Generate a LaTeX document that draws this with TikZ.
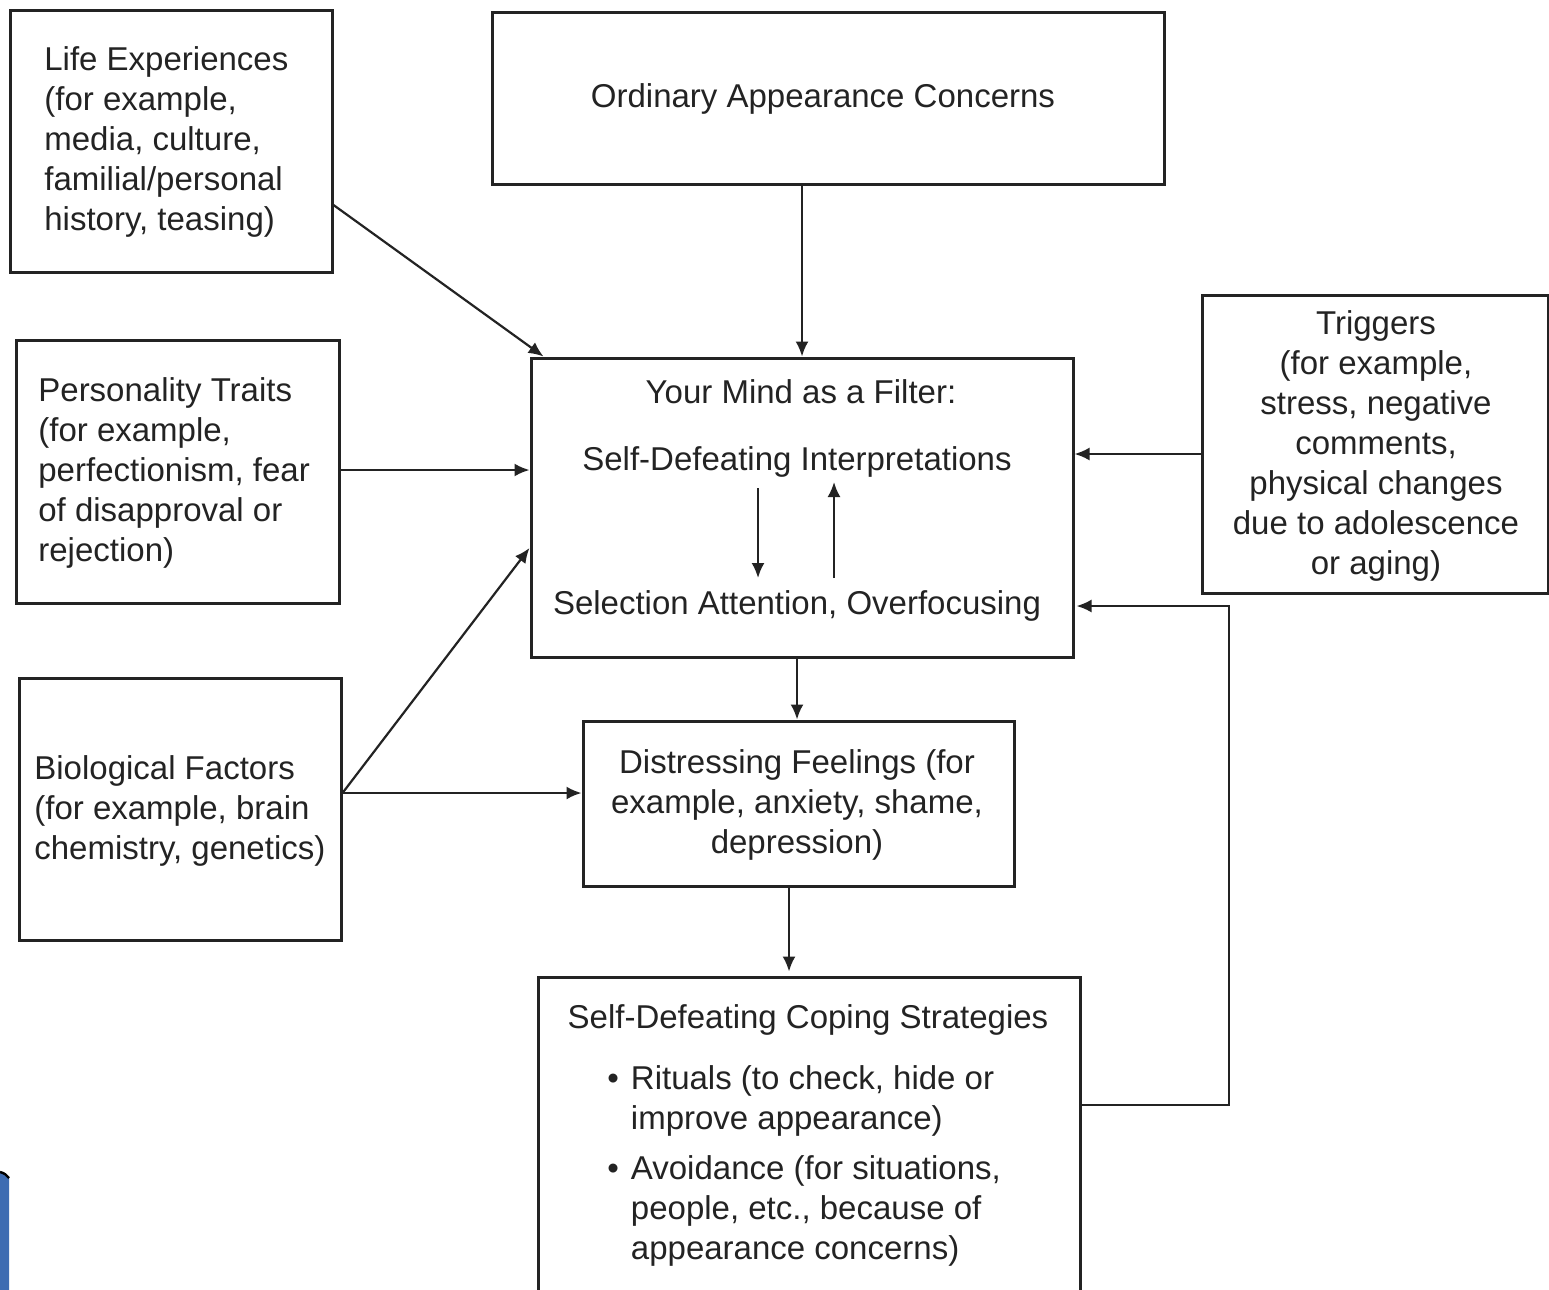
\documentclass[tikz,border=0pt]{standalone}
\usepackage{fontspec}
\setmainfont{Liberation Sans}
\usetikzlibrary{arrows.meta,calc}
\definecolor{ink}{RGB}{35,35,35}
\definecolor{deco}{RGB}{62,108,178}
\newcommand{\bul}{\textbullet\hspace{6pt}}
\begin{document}
\begin{tikzpicture}[x=0.5pt,y=-0.5pt,
  box/.style={draw=ink,line width=1.5pt,inner sep=0pt},
  txt/.style={inner sep=0pt,text=ink,font=\fontsize{16.5}{20}\selectfont},
  arr/.style={draw=ink,line width=1.1pt,-{Latex[length=7.5pt,width=6.5pt]}}]
\useasboundingbox[fill=white] (0,0) rectangle (1549,1290);
% decoration at bottom left
\fill[deco] (0,1172) .. controls (4,1173) and (7,1175) .. (9,1178) -- (9,1290) -- (0,1290) -- cycle;
\draw[black,line width=1.2pt] (0,1172) .. controls (4,1173) and (7,1175) .. (9,1178);
% boxes
\node[box,minimum width=161pt,minimum height=131pt] (life) at (171,141) {};
\node[box,minimum width=336pt,minimum height=86pt] (ord) at (828,98) {};
\node[box,minimum width=161.5pt,minimum height=131.5pt] (pers) at (177.5,471.5) {};
\node[box,minimum width=161pt,minimum height=131pt] (bio) at (180,809) {};
\node[box,minimum width=271pt,minimum height=149.5pt] (mind) at (802,507.5) {};
\node[box,minimum width=173pt,minimum height=149pt] (trig) at (1375,444) {};
\node[box,minimum width=215.5pt,minimum height=82.5pt] (dist) at (798.5,803.5) {};
\node[box,minimum width=271pt,minimum height=163pt] (cope) at (809,1140) {};
% texts
\node[txt,anchor=west,align=left] (lifet) at (44,142) {Life Experiences\\(for example,\\media, culture,\\familial/personal\\history, teasing)};
\node[txt] (ordt) at (823,99) {Ordinary Appearance Concerns};
\node[txt,anchor=west,align=left] (perst) at (38,472.5) {Personality Traits\\(for example,\\perfectionism, fear\\of disapproval or\\rejection)};
\node[txt,anchor=west,align=left] (biot) at (34,810.5) {Biological Factors\\(for example, brain\\chemistry, genetics)};
\node[txt,align=center] (trigt) at (1376,446) {Triggers\\(for example,\\stress, negative\\comments,\\physical changes\\due to adolescence\\or aging)};
\node[txt] (mindt) at (801,392) {Your Mind as a Filter:};
\node[txt] (interp) at (797,462) {Self-Defeating Interpretations};
\node[txt] (sel) at (797,606) {Selection Attention, Overfocusing};
\node[txt,align=center] (distt) at (797,805) {Distressing Feelings (for\\example, anxiety, shame,\\depression)};
\node[txt] (copet) at (808,1020) {Self-Defeating Coping Strategies};
\node[txt,anchor=west,align=left] (rit) at (607,1100.5) {\bul Rituals (to check, hide or\\\hphantom{\bul}improve appearance)};
\node[txt,anchor=west,align=left] (avo) at (607,1210.5) {\bul Avoidance (for situations,\\\hphantom{\bul}people, etc., because of\\\hphantom{\bul}appearance concerns)};
% inner arrows
\coordinate (d1) at (758,488);
\coordinate (d2) at (758,578);
\coordinate (u1) at (834,578);
\coordinate (u2) at (834,482);
\draw[arr] (d1) -- (d2);
\draw[arr] (u1) -- (u2);
% connectors
\draw[arr] (life.east |- 0,205) -- ([xshift=7pt]mind.north west);
\draw[arr] (mind.north |- ord.south) -- (mind.north);
\draw[arr] (pers.east |- 0,470) -- (mind.west |- 0,470);
\draw[arr] (bio.east |- 0,793) -- (mind.west |- 0,548);
\draw[arr] (bio.east |- 0,793) -- (dist.west |- 0,793);
\draw[arr] (trig.west |- 0,454) -- (mind.east |- 0,454);
\draw[arr] (mind.south -| 797,0) -- (dist.north -| 797,0);
\draw[arr] (dist.south -| 789,0) -- ([yshift=2pt]cope.north -| 789,0);
\coordinate (fb) at (1229,606);
\draw[arr] (cope.east |- 0,1105) -| (fb) -- ([xshift=1pt]mind.east |- fb);
\end{tikzpicture}
\end{document}
